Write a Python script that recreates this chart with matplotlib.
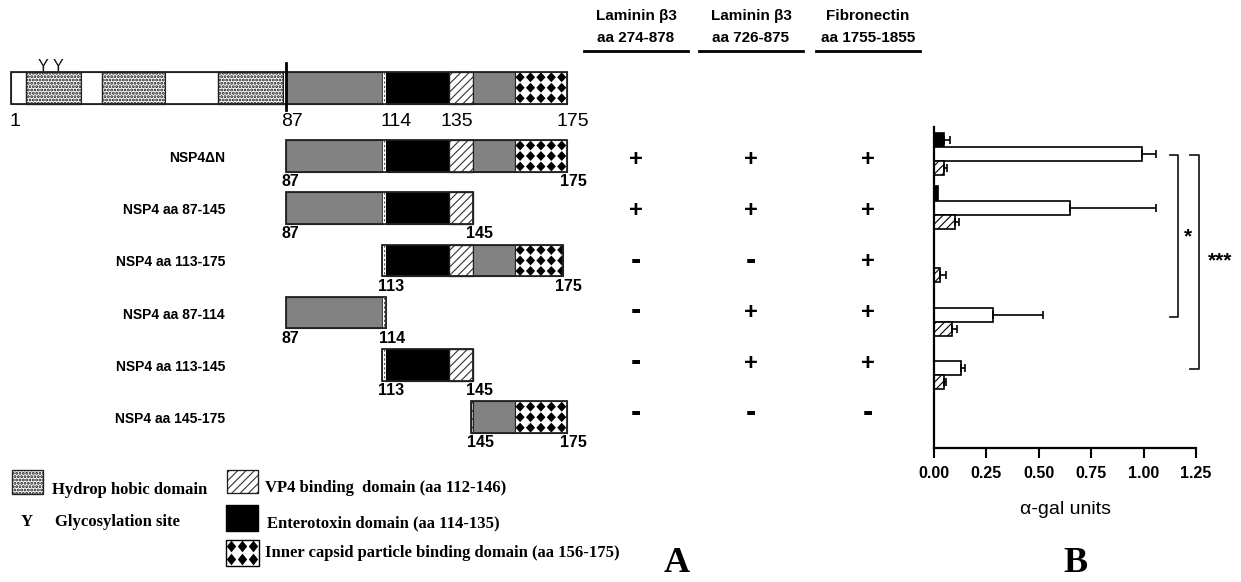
import matplotlib
matplotlib.use('Agg')
import matplotlib.pyplot as plt
from matplotlib.patches import Rectangle, Polygon
import numpy as np

plt.rcParams['font.family'] = ['Liberation Sans', 'DejaVu Sans']
plt.rcParams['hatch.linewidth'] = 0.8

# ---------------- data ----------------
# NSP4 domain map (drawn amino-acid boundaries)
dom_start = [1, 5.7, 22.8, 29.4, 49.2, 65.8, 86.2, 87, 117, 118.5, 138.1, 145.6, 158.7]
dom_end = [5.7, 22.8, 29.4, 49.2, 65.8, 86.2, 87, 117, 118.5, 138.1, 145.6, 158.7, 175]
dom_kind = ['white', 'dots', 'white', 'dots', 'white', 'dots', 'white',
            'gray', 'strip', 'black', 'hatch', 'gray', 'checker']
glyco_sites = [10.9, 15.7]
full_labels = ['1', '87', '114', '135', '175']

construct_names = ['NSP4\u0394N', 'NSP4 aa 87-145', 'NSP4 aa 113-175',
                   'NSP4 aa 87-114', 'NSP4 aa 113-145', 'NSP4 aa 145-175']
construct_start = [87, 87, 117, 87, 117, 145]
construct_end = [175, 145.6, 173.7, 118.5, 145.6, 175]
start_labels = ['87', '87', '113', '87', '113', '145']
end_labels = ['175', '145', '175', '114', '145', '175']

headers = [('Laminin \u03b23', 'aa 274-878'), ('Laminin \u03b23', 'aa 726-875'),
           ('Fibronectin', 'aa 1755-1855')]
binding_lam274 = ['+', '+', '-', '-', '-', '-']
binding_lam726 = ['+', '+', '-', '+', '+', '-']
binding_fn = ['+', '+', '+', '+', '+', '-']

# alpha-gal units (panel B)
gal_black = [0.048, 0.02, 0.0, 0.0, 0.0, 0.0]
gal_black_err = [0.03, 0.0, 0.0, 0.0, 0.0, 0.0]
gal_white = [0.99, 0.65, 0.0, 0.28, 0.13, 0.0]
gal_white_err = [0.07, 0.41, 0.0, 0.24, 0.02, 0.0]
gal_hatch = [0.05, 0.10, 0.03, 0.087, 0.05, 0.0]
gal_hatch_err = [0.01, 0.02, 0.025, 0.023, 0.006, 0.0]
x_ticks = [0.0, 0.25, 0.5, 0.75, 1.0, 1.25]

legend_items = ['Hydrop hobic domain', 'Glycosylation site', 'VP4 binding  domain (aa 112-146)',
                'Enterotoxin domain (aa 114-135)', 'Inner capsid particle binding domain (aa 156-175)']

# ---------------- figure ----------------
W, H = 1241, 582
fig = plt.figure(figsize=(W / 100, H / 100), dpi=100)

ax0 = fig.add_axes([0, 0, 1, 1])
ax0.set_xlim(0, W)
ax0.set_ylim(H, 0)
ax0.axis('off')

# schematic axes: x in amino acids, y in pixels
PX_PER_AA = (567 - 11) / 174.0
ax_s = fig.add_axes([0, 0, 1, 1])
ax_s.set_xlim(1 - 11 / PX_PER_AA, 1 + (W - 11) / PX_PER_AA)
ax_s.set_ylim(H, 0)
ax_s.axis('off')
ax_s.patch.set_alpha(0)

FULL_Y = 87.75
BAR_H = 31.5
ROW0 = 156.0
ROW_STEP = 52.24
CELL_AA = 10.4 / PX_PER_AA


def dotted_rect(ax, xy, w, h):
    p = Rectangle(xy, w, h, fc='white', ec='#111111', lw=0.8, hatch='.....')
    try:
        p.set_hatch_linewidth(1.4)
    except AttributeError:
        pass
    ax.add_patch(p)
    ax.add_patch(Rectangle(xy, w, h, fc='none', ec='#222222', lw=0.9))


def hatch_rect(ax, xy, w, h):
    ax.add_patch(Rectangle(xy, w, h, fc='white', ec='#333333', lw=0.8, hatch='////'))
    ax.add_patch(Rectangle(xy, w, h, fc='none', ec='#222222', lw=0.9))


def draw_segment(ax, a, b, yc, h, kind):
    y0 = yc - h / 2
    if b <= a:
        return
    if kind == 'white':
        ax.add_patch(Rectangle((a, y0), b - a, h, fc='white', ec='#222222', lw=0.8))
    elif kind == 'dots':
        dotted_rect(ax, (a, y0), b - a, h)
    elif kind == 'gray':
        ax.add_patch(Rectangle((a, y0), b - a, h, fc='#828282', ec='#222222', lw=0.8))
    elif kind == 'black':
        ax.add_patch(Rectangle((a, y0), b - a, h, fc='black', ec='black', lw=0.8))
    elif kind == 'strip':
        ax.add_patch(Rectangle((a, y0), b - a, h, fc='white', ec='#333333', lw=0.6))
        ax.plot([(a + b) / 2] * 2, [y0, y0 + h], color='#555555', lw=0.8, ls=(0, (2, 2)))
    elif kind == 'hatch':
        hatch_rect(ax, (a, y0), b - a, h)
    elif kind == 'checker':
        bg = Rectangle((a, y0), b - a, h, fc='white', ec='#222222', lw=0.8)
        ax.add_patch(bg)
        dom_a = dom_start[dom_kind.index('checker')]
        ncols = int(np.ceil((b - dom_a) / CELL_AA)) + 1
        rh = h / 3
        for i in range(ncols):
            cx = dom_a + (i + 0.5) * CELL_AA
            for j in range(3):
                cy = y0 + (j + 0.5) * rh
                dx, dy = CELL_AA * 0.44, rh * 0.47
                p = Polygon([(cx - dx, cy), (cx, cy - dy), (cx + dx, cy), (cx, cy + dy)],
                            closed=True, fc='black', ec='none')
                ax.add_patch(p)
                p.set_clip_path(bg)


def draw_construct(ax, s, e, yc, h):
    for a, b, k in zip(dom_start, dom_end, dom_kind):
        aa, bb = max(a, s), min(b, e)
        if bb > aa:
            draw_segment(ax, aa, bb, yc, h, k)
    ax.add_patch(Rectangle((s, yc - h / 2), e - s, h, fc='none', ec='#222222', lw=1.3))


# full-length NSP4
draw_construct(ax_s, 1, 175, FULL_Y, BAR_H)
ax_s.plot([87, 87], [63, 110], color='black', lw=2)
for g in glyco_sites:
    ax_s.text(g, FULL_Y - BAR_H / 2 + 2, 'Y', ha='center', va='bottom', fontsize=11.5,
              color='#111111')
full_label_x = [15, 292, 396, 457, 573]
for lab, x in zip(full_labels, full_label_x):
    ax0.text(x, 122, lab, ha='center', va='center', fontsize=14)

# constructs
for i, (name, s, e, sl, el) in enumerate(zip(construct_names, construct_start, construct_end,
                                            start_labels, end_labels)):
    yc = ROW0 + ROW_STEP * i
    draw_construct(ax_s, s, e, yc, BAR_H)
    ax0.text(225, yc + 2, name, ha='right', va='center', fontsize=10, fontweight='bold')
    ax_s.text(s - 1.2, yc + BAR_H / 2 + 10, sl, ha='left', va='center', fontsize=11.5, fontweight='bold')
    ax_s.text(e - 2.3, yc + BAR_H / 2 + 10, el, ha='left', va='center', fontsize=11.5, fontweight='bold')

# headers and binding results
col_x = [636, 751, 868]
for (l1, l2), cx in zip(headers, col_x):
    ax0.text(cx, 16, l1, ha='center', va='center', fontsize=11, fontweight='bold')
    ax0.text(cx, 38, l2, ha='center', va='center', fontsize=11, fontweight='bold')
    ax0.plot([cx - 52, cx + 52], [51, 51], color='black', lw=2)

for col, cx in zip([binding_lam274, binding_lam726, binding_fn], col_x):
    for i, sgn in enumerate(col):
        yy = 160 + 50.8 * i
        if sgn == '+':
            ax0.text(cx, yy, '+', ha='center', va='center', fontsize=17, fontweight='bold')
        else:
            ax0.text(cx, yy - 1, '-', ha='center', va='center', fontsize=22, fontweight='bold')

# legend
serif = ['Liberation Serif', 'DejaVu Serif']
dotted_rect(ax0, (12, 470), 31, 24)
ax0.text(52, 490, legend_items[0], ha='left', va='center', fontsize=12, fontweight='bold', family=serif)
ax0.text(27, 522, 'Y', ha='center', va='center', fontsize=12, fontweight='bold', family=serif)
ax0.text(55, 522, legend_items[1], ha='left', va='center', fontsize=12, fontweight='bold', family=serif)
hatch_rect(ax0, (227, 470), 31, 23)
ax0.text(265, 488, legend_items[2], ha='left', va='center', fontsize=12, fontweight='bold', family=serif)
ax0.add_patch(Rectangle((226, 505), 32, 26, fc='black', ec='black', lw=1))
ax0.text(267, 523, legend_items[3], ha='left', va='center', fontsize=12, fontweight='bold', family=serif)
# checker legend box (drawn in schematic units)
leg_a = 1 + (226 - 11) / PX_PER_AA
leg_b = 1 + (259 - 11) / PX_PER_AA
bgl = Rectangle((leg_a, 540), leg_b - leg_a, 26, fc='white', ec='black', lw=1)
ax_s.add_patch(bgl)
for i in range(3):
    for j in range(2):
        cx = leg_a + (i + 0.5) * (leg_b - leg_a) / 3
        cy = 540 + (j + 0.5) * 13
        dx, dy = (leg_b - leg_a) / 6 * 0.85, 5.8
        p = Polygon([(cx - dx, cy), (cx, cy - dy), (cx + dx, cy), (cx, cy + dy)], fc='black', ec='none')
        ax_s.add_patch(p)
        p.set_clip_path(bgl)
ax0.text(265, 553, legend_items[4], ha='left', va='center', fontsize=12, fontweight='bold', family=serif)

ax0.text(677, 564, 'A', ha='center', va='center', fontsize=26, fontweight='bold', family=serif)
ax0.text(1076, 564, 'B', ha='center', va='center', fontsize=26, fontweight='bold', family=serif)

# ---------------- panel B ----------------
axB = fig.add_axes([934 / W, (H - 448) / H, 262 / W, 321 / H])
axB.patch.set_alpha(0)
groups = np.arange(len(gal_white))
bh = 0.262
off = [-bh, 0.0, bh]
series = [(gal_black, gal_black_err, dict(color='black', edgecolor='black')),
          (gal_white, gal_white_err, dict(color='white', edgecolor='black')),
          (gal_hatch, gal_hatch_err, dict(color='white', edgecolor='black', hatch='////'))]
for (vals, errs, st), o in zip(series, off):
    y = groups + o
    axB.barh(y, vals, height=bh, linewidth=1.2, **st)
    v = np.array(vals); e = np.array(errs)
    m = e > 0
    axB.errorbar(v[m], y[m], xerr=[np.zeros(m.sum()), e[m]], fmt='none', ecolor='black',
                 elinewidth=1.2, capsize=3, capthick=1.2)

axB.set_xlim(0, 1.25)
axB.set_ylim(5.495, -0.505)
axB.set_yticks([])
axB.set_xticks(x_ticks)
axB.set_xticklabels(['%.2f' % t for t in x_ticks], fontsize=11.5, fontweight='bold')
axB.tick_params(axis='x', length=7, width=1.5, pad=6, direction='out')
for sp in ['top', 'right']:
    axB.spines[sp].set_visible(False)
for sp in ['left', 'bottom']:
    axB.spines[sp].set_linewidth(1.6)
axB.set_xlabel('\u03b1-gal units', fontsize=14, labelpad=14)

# significance brackets
def bracket(x, x_in, y1, y2):
    axB.plot([x_in, x, x, x_in], [y1, y1, y2, y2], color='#222222', lw=1.3, clip_on=False)

bracket(1.164, 1.126, 0.02, 3.05)
bracket(1.264, 1.221, 0.02, 4.02)
axB.text(1.212, 1.55, '*', ha='center', va='center', fontsize=15, fontweight='bold', clip_on=False)
axB.text(1.364, 2.0, '***', ha='center', va='center', fontsize=15, fontweight='bold', clip_on=False)

fig.savefig('out.png', dpi=100)
